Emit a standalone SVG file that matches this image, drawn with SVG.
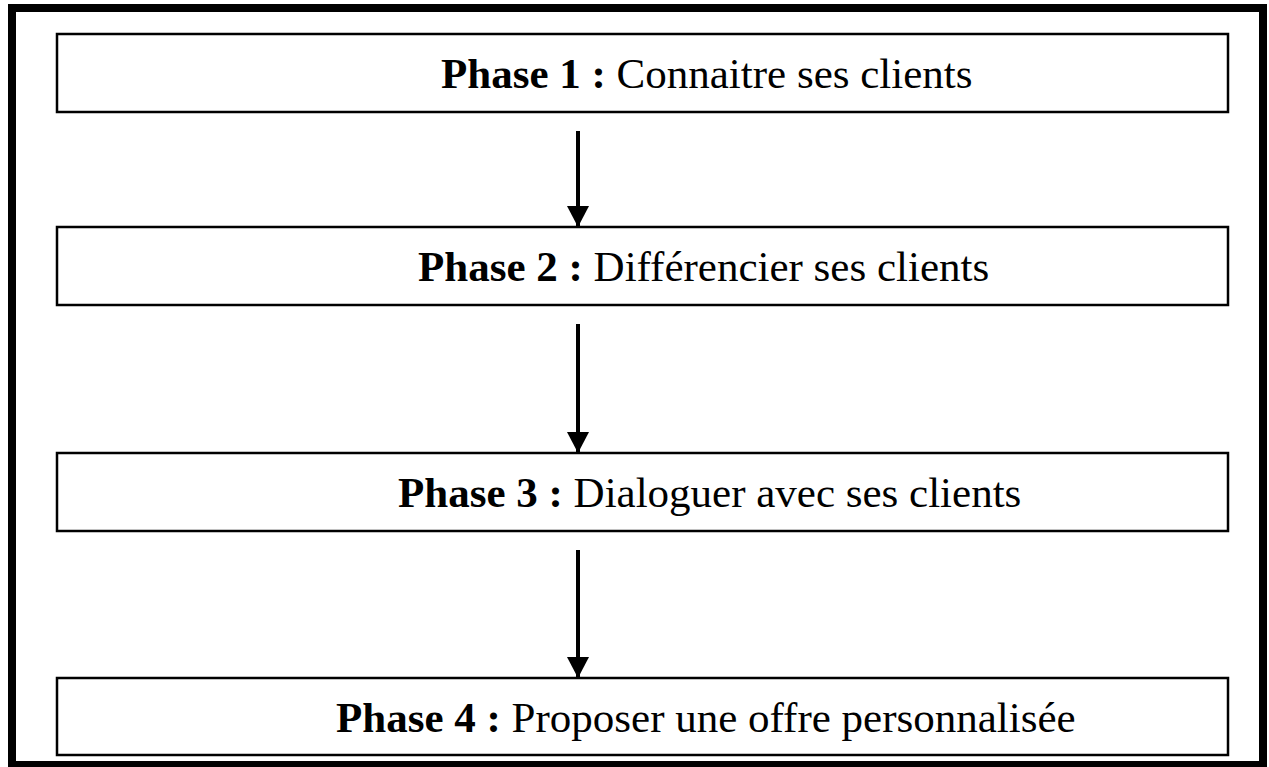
<svg xmlns="http://www.w3.org/2000/svg" width="1269" height="767" viewBox="0 0 1269 767">
  <style>
    .frame { fill: none; stroke: #000; stroke-width: 8; }
    .box { fill: #fff; stroke: #000; stroke-width: 2.5; }
    .label { font-family: "Liberation Serif", "Times New Roman", serif; font-size: 43px; fill: #000; }
    .label .b { font-weight: bold; }
    .link { stroke: #000; stroke-width: 4; fill: none; marker-end: url(#arrow); }
  </style>
  <defs>
    <marker id="arrow" markerUnits="userSpaceOnUse" markerWidth="22" markerHeight="22" refX="21" refY="11" orient="auto">
      <path d="M0,0 L21,11 L0,22 Z" fill="#000"/>
    </marker>
  </defs>

  <rect width="1269" height="767" fill="#fff"/>
  <rect class="frame" x="12" y="8" width="1251" height="757"/>

  <g id="phase1">
    <rect class="box" x="57" y="34" width="1171" height="78"/>
    <text class="label" x="441" y="88"><tspan class="b">Phase 1 :</tspan> Connaitre ses clients</text>
  </g>
  <g id="phase2">
    <rect class="box" x="57" y="227" width="1171" height="78"/>
    <text class="label" x="418" y="281"><tspan class="b">Phase 2 :</tspan> Différencier ses clients</text>
  </g>
  <g id="phase3">
    <rect class="box" x="57" y="453" width="1171" height="78"/>
    <text class="label" x="398" y="507"><tspan class="b">Phase 3 :</tspan> Dialoguer avec ses clients</text>
  </g>
  <g id="phase4">
    <rect class="box" x="57" y="678" width="1171" height="77"/>
    <text class="label" x="336" y="732"><tspan class="b">Phase 4 :</tspan> Proposer une offre personnalisée</text>
  </g>

  <g id="connectors">
    <line class="link" x1="578" y1="131" x2="578" y2="227"/>
    <line class="link" x1="578" y1="324" x2="578" y2="453"/>
    <line class="link" x1="578" y1="550" x2="578" y2="678"/>
  </g>
</svg>
